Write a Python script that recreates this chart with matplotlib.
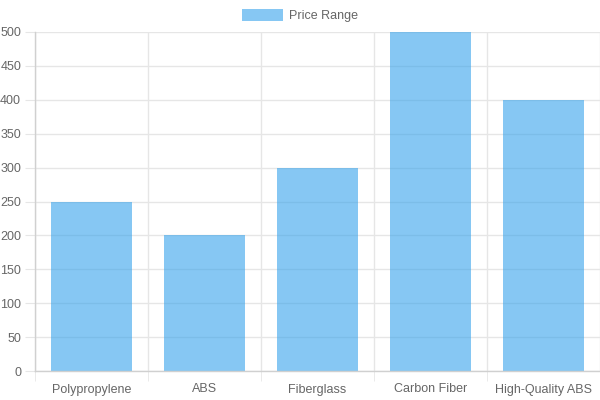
import numpy as np
import matplotlib
matplotlib.use('Agg')
import matplotlib.pyplot as plt
from matplotlib.ticker import FixedLocator, NullFormatter

plt.rcParams['font.family'] = ['Liberation Sans', 'DejaVu Sans']

# data
materials = ['Polypropylene', 'ABS', 'Fiberglass', 'Carbon Fiber', 'High-Quality ABS']
price_range = [250, 200, 300, 500, 400]

bar_color = (54/255, 162/255, 235/255, 0.6)
grid_color = '#e6e6e6'
text_color = '#666666'

fig = plt.figure(figsize=(6, 4), dpi=100)
ax = fig.add_axes([35/600, 29/400, 565/600, 339/400])

x = np.arange(len(materials))
ax.bar(x, price_range, width=0.72, color=bar_color, label='Price Range', zorder=2)

ax.set_xlim(-0.5, len(materials) - 0.5)
ax.set_ylim(0, 500)
ax.set_yticks(np.arange(0, 501, 50))

# category labels in the middle, grid lines at the boundaries
ax.set_xticks(x)
ax.set_xticklabels(materials)
ax.xaxis.set_minor_locator(FixedLocator(np.arange(-0.5, len(materials), 1.0)))
ax.xaxis.set_minor_formatter(NullFormatter())
ax.tick_params(axis='x', which='major', length=0, pad=9, labelsize=9, labelcolor=text_color)
ax.tick_params(axis='x', which='minor', length=7, color=grid_color)
ax.tick_params(axis='y', length=7, color=grid_color, pad=3, labelsize=9, labelcolor=text_color)

ax.grid(True, axis='x', which='minor', color=grid_color, linewidth=1, zorder=0)
ax.grid(True, axis='y', which='major', color=grid_color, linewidth=1, zorder=0)
ax.set_axisbelow(True)

for side in ['top', 'right']:
    ax.spines[side].set_visible(False)
for side in ['left', 'bottom']:
    ax.spines[side].set_color('#d0d0d0')
    ax.spines[side].set_linewidth(1)

leg = fig.legend(loc='upper center', bbox_to_anchor=(0.5, 1.0), ncol=1, frameon=False,
                 fontsize=9, handlelength=3.3, handleheight=1.0, handletextpad=0.5,
                 borderaxespad=0.35)
for t in leg.get_texts():
    t.set_color(text_color)

fig.savefig('out.png', dpi=100)
